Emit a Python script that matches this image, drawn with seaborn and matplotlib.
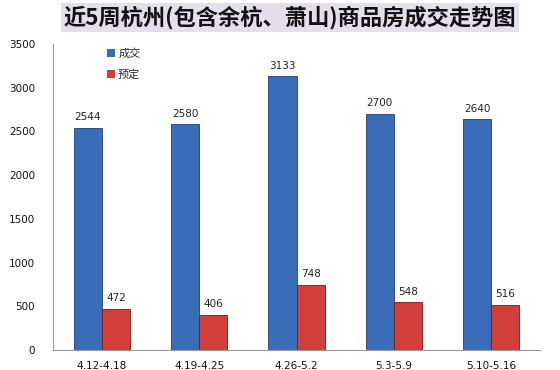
import matplotlib
matplotlib.use("Agg")
import matplotlib.pyplot as plt
import seaborn as sns
import pandas as pd

weeks = ["4.12-4.18", "4.19-4.25", "4.26-5.2", "5.3-5.9", "5.10-5.16"]
deal = [2544, 2580, 3133, 2700, 2640]
reserve = [472, 406, 748, 548, 516]
series_names = ["成交", "预定"]
title = "近5周杭州(包含余杭、萧山)商品房成交走势图"

sns.set_theme(style="white")
plt.rcParams['font.family'] = ['Noto Sans CJK SC', 'DejaVu Sans']

df = pd.DataFrame({
    "week": weeks * 2,
    "value": deal + reserve,
    "series": [series_names[0]] * len(weeks) + [series_names[1]] * len(weeks),
})

fig = plt.figure(figsize=(5.6, 3.7), dpi=100)
ax = fig.add_axes([0.095, 0.054, 0.869, 0.827])

palette = {series_names[0]: "#3b6cb7", series_names[1]: "#d23f3a"}
sns.barplot(data=df, x="week", y="value", hue="series", palette=palette,
            width=0.58, ax=ax, saturation=1, edgecolor="none")

edge = {0: "#1f3f78", 1: "#7a1a16"}
for i, cont in enumerate(ax.containers):
    for p in cont:
        p.set_edgecolor(edge[i])
        p.set_linewidth(0.6)
    ax.bar_label(cont, labels=[str(int(v)) for v in cont.datavalues],
                 padding=4, fontsize=7.5, color="#222222", family="DejaVu Sans")

ax.set_ylim(0, 3500)
ax.set_yticks(range(0, 3501, 500))
ax.set_xlim(-0.5, len(weeks) - 0.5)
ax.set_xlabel("")
ax.set_ylabel("")
for lab in ax.get_yticklabels() + ax.get_xticklabels():
    lab.set_fontsize(7.5)
    lab.set_family("DejaVu Sans")
    lab.set_color("#111111")
ax.tick_params(axis="y", pad=13, length=0)
ax.tick_params(axis="x", pad=8, length=0)
for s in ["top", "right"]:
    ax.spines[s].set_visible(False)
for s in ["left", "bottom"]:
    ax.spines[s].set_color("#999999")
    ax.spines[s].set_linewidth(0.8)

leg = ax.legend(loc="upper left", bbox_to_anchor=(0.09, 1.02), frameon=False,
                fontsize=8, handlelength=0.7, handleheight=0.7, labelspacing=1.0,
                handletextpad=0.3)

fig.text(0.518, 0.952, title, ha="center", va="center", fontsize=16,
         fontweight="bold", color="#111111",
         bbox=dict(boxstyle="square,pad=0.12", facecolor="#e5dfec", edgecolor="none"))

fig.savefig("out.png", dpi=100)
